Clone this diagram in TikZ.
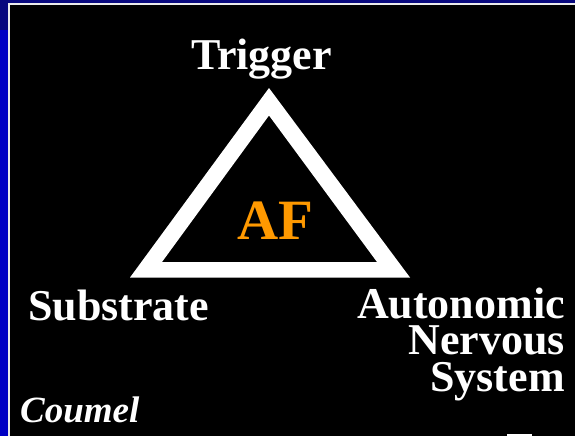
\documentclass[tikz,border=0pt]{standalone}
\usepackage{fontspec}
\setmainfont{Liberation Serif}
\definecolor{slidenavy}{HTML}{08087E}
\definecolor{slideblue}{HTML}{0000C4}
\definecolor{afgold}{HTML}{FF9900}
\tikzset{
  label/.style={text=white, inner sep=0pt, font=\bfseries\fontsize{44}{36.5}\selectfont},
}
\begin{document}
\begin{tikzpicture}[x=1pt, y=-1pt]
  % slide background and frame
  \useasboundingbox (0,0) rectangle (575,436);
  \fill[slidenavy] (0,0) rectangle (575,436);
  \fill[slideblue] (0,30) rectangle (8,436);
  \fill[black!8] (8,3.5) rectangle (575,5.5);
  \fill[black!8] (8,3.5) rectangle (10,436);
  \fill[black] (10,5.5) rectangle (575,436);
  \fill[white] (507,433.5) rectangle (532,436);

  % the white triangle outline
  \fill[white, even odd rule]
    (269,88) -- (410,277.5) -- (130,277.5) -- cycle
    (269,115.5) -- (377,262) -- (162,262) -- cycle;

  % labels
  \node[label, anchor=base] (trigger) at (261.5,69) {Trigger};
  \node[label, anchor=base, text=afgold, font=\bfseries\fontsize{57}{60}\selectfont] (af) at (275.5,239) {AF};
  \node[label, anchor=base west] (substrate) at (28,320) {Substrate};
  \node[label, anchor=base east, align=right] (ans) at (565,391) {Autonomic\\Nervous\\System};
  \node[label, anchor=base west, font=\bfseries\itshape\fontsize{37}{40}\selectfont] (coumel) at (20,422) {Coumel};
\end{tikzpicture}
\end{document}
